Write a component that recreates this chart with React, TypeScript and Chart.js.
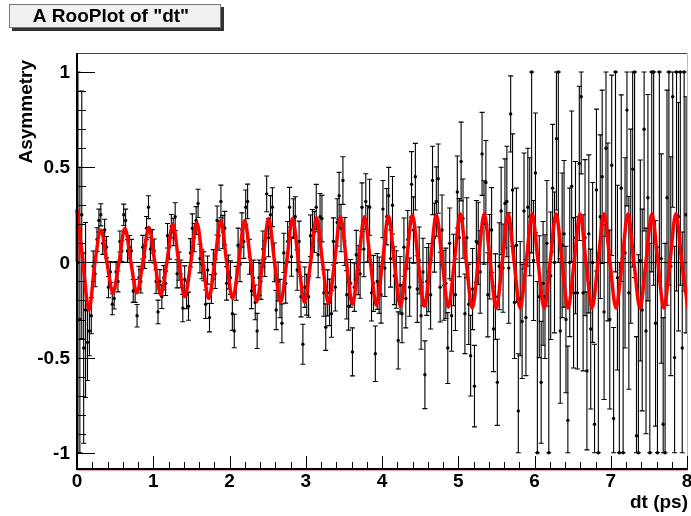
import React, { useEffect, useRef } from "react";
import { Chart, registerables } from "chart.js";

Chart.register(...registerables);

// ---- text ----
const PLOT_TITLE = 'A RooPlot of "dt"';
const X_TITLE = "dt (ps)";
const Y_TITLE = "Asymmetry";

// ---- axes ----
const X_MIN = 0;
const X_MAX = 8;
const Y_MIN = -1.08;
const Y_MAX = 1.1;
const X_MAJOR_TICKS = [0, 1, 2, 3, 4, 5, 6, 7, 8];
const Y_MAJOR_TICKS = [-1, -0.5, 0, 0.5, 1];
const X_TICK_LABELS = ["0", "1", "2", "3", "4", "5", "6", "7", "8"];
const Y_TICK_LABELS = ["-1", "-0.5", "0", "0.5", "1"];
const MINOR_PER_MAJOR = 5;

// ---- binned asymmetry: 320 bins of 0.025 ps between 0 and 8 ----
const BIN_WIDTH = 0.025;
const asymmetry = [
  // 0.000 - 0.625
  0.0, -0.3, 0.25, -0.45, -0.25, -0.42, -0.36, -0.28, -0.02, -0.06, 0.12, 0.22, 0.25,
  0.10, 0.17, 0.08, -0.13, -0.05, -0.22, -0.19, -0.05, -0.10, 0.11, 0.06, 0.25,
  // 0.625 - 1.250
  0.22, 0.06, 0.08, 0.06, -0.15, -0.15, -0.28, -0.08, -0.10, 0.08, 0.03, 0.18, 0.29,
  0.07, 0.11, 0.06, -0.10, -0.26, -0.10, -0.18, -0.08, -0.11, 0.14, 0.08, 0.19,
  // 1.250 - 1.875
  0.16, 0.24, -0.06, -0.02, -0.06, -0.24, -0.09, -0.17, -0.23, 0.05, 0.18, 0.13, 0.22,
  0.31, 0.02, -0.01, -0.02, -0.22, -0.04, -0.29, -0.14, -0.01, -0.06, 0.22, 0.14,
  // 1.875 - 2.500
  0.32, 0.16, 0.18, -0.11, -0.05, -0.08, -0.27, -0.36, -0.11, 0.09, -0.01, 0.17, 0.11,
  0.29, 0.32, 0.03, -0.15, -0.08, -0.21, -0.36, -0.08, -0.10, 0.07, 0.02, 0.36,
  // 2.500 - 3.125
  0.13, 0.25, 0.29, 0.0, -0.25, -0.10, -0.19, -0.32, 0.05, -0.11, 0.11, 0.29, 0.03,
  0.23, 0.24, -0.04, 0.11, -0.18, -0.43, -0.13, -0.17, -0.18, 0.14, 0.17, 0.16,
  // 3.125 - 3.750
  0.29, 0.04, 0.24, 0.23, -0.16, -0.34, -0.16, -0.21, -0.27, 0.11, -0.13, 0.21, 0.35,
  0.18, 0.43, 0.11, -0.17, -0.23, -0.11, -0.47, -0.13, 0.04, -0.04, -0.06, 0.29,
  // 3.750 - 4.375
  0.07, 0.32, 0.15, 0.29, -0.16, -0.11, -0.48, -0.10, -0.12, -0.17, 0.28, -0.03, 0.24,
  0.35, 0.02, 0.30, -0.07, -0.09, -0.41, -0.12, -0.27, 0.08, -0.19, 0.12, -0.13,
  // 4.375 - 5.000
  0.41, 0.17, 0.45, -0.14, 0.01, -0.28, -0.05, -0.59, -0.10, -0.08, -0.17, 0.43, 0.13,
  0.32, 0.44, -0.13, 0.17, -0.12, -0.11, -0.45, 0.10, -0.28, -0.04, -0.17, 0.37,
  // 5.000 - 5.625
  0.13, 0.53, 0.23, -0.27, 0.13, -0.22, -0.49, -0.14, -0.65, 0.11, 0.10, -0.05, 0.57,
  0.21, 0.42, -0.17, 0.03, 0.17, -0.35, -0.18, -0.63, -0.02, 0.27, -0.03, 0.31,
  // 5.625 - 6.250
  0.32, -0.03, 0.78, 0.38, -0.21, 0.09, -0.78, -0.19, -0.31, 0.27, -0.29, 0.29, 0.24,
  1.0, 0.01, 0.47, -1.0, -0.18, -0.63, -0.11, -0.18, 0.10, -1.0, -0.07, 0.39,
  // 6.250 - 6.875
  0.0, 0.65, 1.0, -0.36, 0.09, 0.15, -0.30, -0.83, 0.0, 0.40, -0.16, 0.13, -0.16,
  0.52, 0.87, -0.16, 0.13, -0.57, 0.15, -0.35, 0.0, -0.85, 0.38, -1.0, 0.24,
  // 6.875 - 7.500
  0.45, -0.26, 0.60, 0.16, -0.30, 0.51, -0.82, 1.0, -0.08, -1.0, 0.39, -1.0, 0.05,
  0.80, -0.16, 0.19, 0.49, 1.0, -0.91, -1.0, 0.01, -0.25, 0.70, -0.36, 0.34,
  // 7.500 - 8.000
  -1.0, 1.0, 1.0, -0.32, -1.0, 1.0, 0.02, -0.85, -1.0, 0.34,
  1.0, -0.02, 0.87, -0.50, 1.0, 0.24, 1.0, -0.45, 1.0, 0.25,
];
const asymmetryErr = [
  1.0, 0.8, 0.65, 0.5, 0.46, 0.2, 0.13, 0.095, 0.08, 0.068, 0.062, 0.06, 0.058,
  0.058, 0.057, 0.056, 0.056, 0.055, 0.055, 0.055, 0.055, 0.055, 0.055, 0.055, 0.056,
  0.06, 0.06, 0.061, 0.061, 0.06, 0.06, 0.059, 0.06, 0.061, 0.062, 0.062, 0.061, 0.06,
  0.061, 0.062, 0.063, 0.063, 0.062, 0.062, 0.062, 0.063, 0.064, 0.064, 0.063, 0.062,
  0.072, 0.073, 0.074, 0.074, 0.073, 0.072, 0.072, 0.073, 0.074, 0.075, 0.075, 0.074, 0.073,
  0.074, 0.075, 0.076, 0.076, 0.075, 0.074, 0.075, 0.076, 0.077, 0.077, 0.076, 0.076,
  0.086, 0.087, 0.088, 0.088, 0.089, 0.088, 0.087, 0.088, 0.089, 0.09, 0.091, 0.09, 0.089,
  0.09, 0.091, 0.092, 0.093, 0.092, 0.091, 0.092, 0.093, 0.094, 0.095, 0.094, 0.094,
  0.1, 0.101, 0.102, 0.102, 0.103, 0.102, 0.101, 0.102, 0.103, 0.104, 0.105, 0.104, 0.103,
  0.104, 0.105, 0.106, 0.107, 0.106, 0.105, 0.106, 0.107, 0.108, 0.109, 0.108, 0.108,
  0.12, 0.121, 0.122, 0.122, 0.123, 0.122, 0.121, 0.122, 0.123, 0.124, 0.125, 0.124, 0.123,
  0.124, 0.125, 0.126, 0.127, 0.126, 0.125, 0.126, 0.127, 0.128, 0.129, 0.128, 0.128,
  0.145, 0.146, 0.147, 0.147, 0.148, 0.147, 0.146, 0.147, 0.148, 0.149, 0.15, 0.149, 0.148,
  0.149, 0.15, 0.151, 0.152, 0.151, 0.15, 0.151, 0.152, 0.153, 0.154, 0.153, 0.153,
  0.172, 0.174, 0.175, 0.175, 0.176, 0.176, 0.177, 0.178, 0.178, 0.179, 0.18, 0.18, 0.181,
  0.182, 0.182, 0.183, 0.184, 0.184, 0.185, 0.186, 0.186, 0.187, 0.188, 0.188, 0.189,
  0.205, 0.207, 0.208, 0.209, 0.21, 0.211, 0.212, 0.213, 0.214, 0.215, 0.216, 0.217, 0.218,
  0.219, 0.22, 0.221, 0.222, 0.223, 0.224, 0.225, 0.226, 0.228, 0.23, 0.232, 0.234,
  0.29, 0.29, 0.2, 0.295, 0.295, 0.3, 0.3, 0.3, 0.3, 0.305, 0.305, 0.31, 0.31,
  0.95, 0.315, 0.315, 0.9, 0.32, 0.32, 0.325, 0.325, 0.33, 0.95, 0.335, 0.335,
  0.37, 0.375, 1.0, 0.38, 0.38, 0.385, 0.385, 0.39, 0.39, 0.395, 0.395, 0.4, 0.4,
  0.405, 0.405, 0.41, 0.41, 0.415, 0.415, 0.42, 0.42, 0.42, 0.425, 1.05, 0.43,
  0.455, 0.46, 0.463, 0.467, 0.47, 0.474, 0.478, 1.05, 0.485, 1.0, 0.49, 1.02, 0.5,
  0.503, 0.506, 0.51, 0.514, 1.08, 0.52, 1.04, 0.528, 0.53, 0.535, 0.54, 0.542,
  1.1, 1.05, 1.12, 0.54, 1.08, 1.1, 0.55, 0.56, 1.1, 0.565,
  1.12, 0.575, 0.58, 0.585, 1.15, 0.6, 1.12, 0.61, 1.15, 0.62,
];

// ---- fitted mixing curve: successive maxima / minima; zero crossings lie halfway between ----
const FIT_QUARTER_PERIOD = 0.07854; // ps
const fitExtrema = [
  0.28, -0.25, 0.17, -0.16, 0.18, -0.16, 0.185, -0.17,
  0.2, -0.18, 0.21, -0.19, 0.22, -0.19, 0.22, -0.205,
  0.23, -0.21, 0.23, -0.21, 0.235, -0.215, 0.24, -0.22,
  0.24, -0.225, 0.245, -0.23, 0.25, -0.23, 0.25, -0.235,
  0.255, -0.24, 0.255, -0.24, 0.255, -0.24, 0.255, -0.24,
  0.255, -0.24, 0.255, -0.24, 0.255, -0.24, 0.255, -0.24,
  0.255, -0.24, 0.255, -0.24,
];
const FIT_START_BASE = 0; // curve polygon starts on the axis at dt = 0

const FONT = "'Liberation Sans', Arial, Helvetica, sans-serif";
const W = 691;
const H = 516;

function buildFitPoints() {
  const pts: { x: number; y: number }[] = [];
  fitExtrema.forEach((v, k) => {
    pts.push({ x: 2 * k * FIT_QUARTER_PERIOD, y: v });
    if (k < fitExtrema.length - 1) pts.push({ x: (2 * k + 1) * FIT_QUARTER_PERIOD, y: 0 });
  });
  return pts;
}

const rooPlotPlugin = {
  id: "rooPlot",
  beforeDatasetsDraw(chart: any) {
    const { ctx, chartArea: a, scales } = chart;
    const xs = scales.x;
    const ys = scales.y;
    ctx.save();
    ctx.beginPath();
    ctx.rect(a.left, a.top, a.right - a.left, a.bottom - a.top);
    ctx.clip();
    // zero line
    ctx.strokeStyle = "#000";
    ctx.lineWidth = 1;
    const y0 = Math.round(ys.getPixelForValue(0)) + 0.5;
    ctx.beginPath();
    ctx.moveTo(a.left, y0);
    ctx.lineTo(a.right, y0);
    ctx.stroke();
    // error bars
    ctx.strokeStyle = "#000";
    ctx.lineWidth = 1.1;
    asymmetry.forEach((v, i) => {
      const e = asymmetryErr[i];
      const px = xs.getPixelForValue((i + 0.5) * BIN_WIDTH);
      const lo = ys.getPixelForValue(Math.max(-1, v - e));
      const hi = ys.getPixelForValue(Math.min(1, v + e));
      ctx.beginPath();
      ctx.moveTo(px, lo);
      ctx.lineTo(px, hi);
      ctx.moveTo(px - 2.5, lo);
      ctx.lineTo(px + 2.5, lo);
      ctx.moveTo(px - 2.5, hi);
      ctx.lineTo(px + 2.5, hi);
      ctx.stroke();
    });
    ctx.restore();
  },
  afterDatasetsDraw(chart: any) {
    const { ctx, chartArea: a, scales } = chart;
    const xs = scales.x;
    const ys = scales.y;
    ctx.save();
    // light closing edge of the curve polygon
    ctx.strokeStyle = "rgba(235,90,90,0.55)";
    ctx.lineWidth = 1;
    ctx.beginPath();
    ctx.moveTo(a.right + 0.5, a.top);
    ctx.lineTo(a.right + 0.5, a.bottom + 2);
    ctx.moveTo(a.left, a.bottom + 2.5);
    ctx.lineTo(a.right + 0.5, a.bottom + 2.5);
    ctx.stroke();
    // frame
    ctx.strokeStyle = "#444";
    ctx.beginPath();
    ctx.moveTo(a.left, a.top + 0.5);
    ctx.lineTo(a.right, a.top + 0.5);
    ctx.stroke();
    ctx.strokeStyle = "#000";
    ctx.lineWidth = 2;
    ctx.beginPath();
    ctx.moveTo(a.left, a.top);
    ctx.lineTo(a.left, a.bottom + 1);
    ctx.lineTo(a.right + 1, a.bottom + 1);
    ctx.stroke();
    // ticks (inside the frame)
    ctx.lineWidth = 1;
    ctx.beginPath();
    for (let m = 0; m < X_MAJOR_TICKS.length; m++) {
      const t = X_MAJOR_TICKS[m];
      const px = Math.round(xs.getPixelForValue(t)) + 0.5;
      ctx.moveTo(px, a.bottom);
      ctx.lineTo(px, a.bottom - 12);
      if (m < X_MAJOR_TICKS.length - 1) {
        const step = (X_MAJOR_TICKS[m + 1] - t) / MINOR_PER_MAJOR;
        for (let s = 1; s < MINOR_PER_MAJOR; s++) {
          const mx = Math.round(xs.getPixelForValue(t + s * step)) + 0.5;
          ctx.moveTo(mx, a.bottom);
          ctx.lineTo(mx, a.bottom - 6);
        }
      }
    }
    for (let m = 0; m < Y_MAJOR_TICKS.length; m++) {
      const v = Y_MAJOR_TICKS[m];
      const py = Math.round(ys.getPixelForValue(v)) + 0.5;
      ctx.moveTo(a.left, py);
      ctx.lineTo(a.left + 18, py);
      if (m < Y_MAJOR_TICKS.length - 1) {
        const step = (Y_MAJOR_TICKS[m + 1] - v) / MINOR_PER_MAJOR;
        for (let s = 1; s < MINOR_PER_MAJOR; s++) {
          const my = Math.round(ys.getPixelForValue(v + s * step)) + 0.5;
          ctx.moveTo(a.left, my);
          ctx.lineTo(a.left + 9, my);
        }
      }
    }
    ctx.stroke();
    ctx.restore();
  },
  afterDraw(chart: any) {
    const { ctx, chartArea: a, scales } = chart;
    const xs = scales.x;
    const ys = scales.y;
    ctx.save();
    ctx.fillStyle = "#000";
    ctx.font = `bold 19px ${FONT}`;
    // tick labels
    ctx.textBaseline = "middle";
    ctx.textAlign = "center";
    X_MAJOR_TICKS.forEach((t, k) => {
      ctx.fillText(X_TICK_LABELS[k], xs.getPixelForValue(t), a.bottom + 14);
    });
    ctx.textAlign = "right";
    Y_MAJOR_TICKS.forEach((v, k) => {
      ctx.fillText(Y_TICK_LABELS[k], a.left - 7, ys.getPixelForValue(v) + 1);
    });
    // axis titles
    ctx.fillText(X_TITLE, 688, 503);
    ctx.save();
    ctx.translate(27, 60);
    ctx.rotate(-Math.PI / 2);
    ctx.textAlign = "right";
    ctx.fillText(Y_TITLE, 0, 0);
    ctx.restore();
    // title box with shadow
    ctx.fillStyle = "#333";
    ctx.fillRect(12, 7, 212, 24);
    ctx.fillStyle = "#f0f0f0";
    ctx.fillRect(9, 4, 212, 24);
    ctx.strokeStyle = "#777";
    ctx.lineWidth = 1;
    ctx.strokeRect(9.5, 4.5, 211, 23);
    ctx.fillStyle = "#000";
    ctx.textAlign = "center";
    ctx.fillText(PLOT_TITLE, 111, 17);
    ctx.restore();
  },
};

function fixScale(width?: number, height?: number) {
  return (s: any) => {
    if (width !== undefined) s.width = width;
    if (height !== undefined) s.height = height;
    s.paddingLeft = 0;
    s.paddingRight = 0;
    s.paddingTop = 0;
    s.paddingBottom = 0;
  };
}

export default function App() {
  const ref = useRef<HTMLCanvasElement>(null);

  useEffect(() => {
    if (!ref.current) return;
    const points = asymmetry.map((v, i) => ({ x: (i + 0.5) * BIN_WIDTH, y: v }));
    const fit = buildFitPoints();

    const chart = new Chart(ref.current, {
      type: "scatter",
      data: {
        datasets: [
          {
            type: "line",
            data: fit,
            borderColor: "#ff0000",
            borderWidth: 3.5,
            pointRadius: 0,
            fill: false,
            cubicInterpolationMode: "monotone",
            clip: { left: 3, right: 0, top: 0, bottom: 0 },
          } as any,
          {
            type: "line",
            data: [
              { x: 0, y: FIT_START_BASE },
              { x: 0, y: fitExtrema[0] },
            ],
            borderColor: "#ff0000",
            borderWidth: 3,
            pointRadius: 0,
            fill: false,
            tension: 0,
            clip: { left: 3, right: 0, top: 0, bottom: 0 },
          } as any,
          {
            data: points,
            backgroundColor: "#000",
            borderWidth: 0,
            pointRadius: 1.7,
          },
        ],
      },
      options: {
        animation: false,
        responsive: false,
        devicePixelRatio: 1,
        layout: { padding: { left: 0, top: 53, right: 2, bottom: 0 } },
        plugins: { legend: { display: false }, tooltip: { enabled: false } },
        scales: {
          x: {
            type: "linear",
            min: X_MIN,
            max: X_MAX,
            grid: { display: false },
            border: { display: false },
            ticks: { display: false },
            afterFit: fixScale(undefined, 48),
          },
          y: {
            type: "linear",
            min: Y_MIN,
            max: Y_MAX,
            grid: { display: false },
            border: { display: false },
            ticks: { display: false },
            afterFit: fixScale(77, undefined),
          },
        },
      },
      plugins: [rooPlotPlugin],
    });
    return () => chart.destroy();
  }, []);

  return (
    <div style={{ position: "absolute", left: 0, top: 0, width: W, height: H, background: "#fff" }}>
      <canvas ref={ref} width={W} height={H} style={{ display: "block", width: W, height: H }} />
    </div>
  );
}
